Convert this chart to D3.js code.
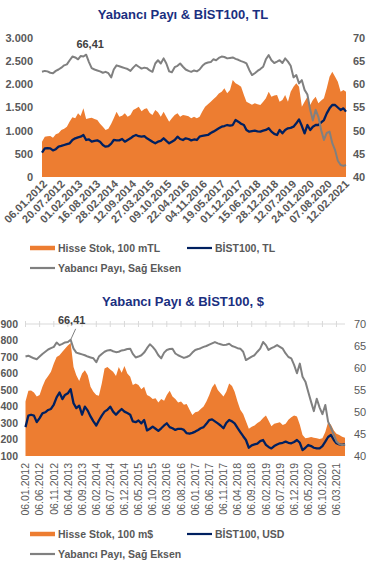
<!DOCTYPE html>
<html>
<head>
<meta charset="utf-8">
<script src="https://cdn.jsdelivr.net/npm/d3@7"></script>
<style>
  body { margin: 0; background: #fff; }
  text { font-family: Arial, "Liberation Sans", sans-serif; }
</style>
</head>
<body>
<div id="chart"></div>
<script>
// ---- Chart 1: TL (monthly readings, 06.01.2012 - 06.03.2021)
const stockTL = [
  762, 870, 880, 885, 845, 920, 943, 1015, 1040, 1086,
  1200, 1290, 1266, 1374, 1317, 1482, 1250, 1266, 1280, 1250,
  1230, 1150, 1086, 1015, 1040, 1150, 1266, 1410, 1300, 1320,
  1374, 1300, 1340, 1446, 1480, 1518, 1420, 1470, 1482, 1380,
  1338, 1446, 1400, 1300, 1410, 1300, 1194, 1266, 1340, 1374,
  1300, 1338, 1330, 1310, 1266, 1300, 1266, 1302, 1420, 1518,
  1570, 1626, 1680, 1734, 1800, 1842, 1914, 1806, 1878, 2094,
  2022, 1990, 1950, 1770, 1626, 1590, 1560, 1590, 1570, 1554,
  1626, 1700, 1842, 1734, 1760, 1770, 1626, 1662, 1770, 1626,
  1842, 1950, 2022, 1950, 1518, 1626, 1734, 1554, 1662, 1734,
  1590, 1650, 1698, 1914, 2166, 2274, 2166, 2058, 1842, 1878,
  1842
];
const bistTL = [
  525, 619, 620, 619, 575, 600, 655, 670, 690, 710,
  727, 799, 835, 856, 870, 907, 799, 810, 763, 780,
  790, 760, 690, 655, 665, 720, 799, 790, 790, 820,
  763, 800, 835, 880, 907, 880, 871, 880, 835, 800,
  760, 727, 763, 780, 835, 780, 727, 763, 800, 871,
  820, 799, 835, 820, 790, 810, 799, 871, 890, 900,
  907, 950, 979, 1015, 1050, 1086, 1100, 1122, 1110, 1122,
  1230, 1194, 1150, 1122, 1015, 979, 990, 1000, 985, 979,
  1000, 1015, 1051, 979, 930, 907, 1015, 943, 1015, 1051,
  1060, 1086, 1158, 1244, 1100, 943, 1122, 1015, 1086, 1122,
  1122, 1180, 1230, 1374, 1482, 1554, 1554, 1500, 1446, 1482,
  1410
];
const foreignTL = [
  62.7, 62.9, 62.8, 62.5, 62.4, 62.9, 63.2, 63.6, 64.1, 64.3,
  65.2, 66.0, 65.8, 65.4, 66.1, 66.0, 66.4, 64.8, 63.5, 63.2,
  63.0, 62.8, 62.5, 62.7, 62.4, 61.5, 63.2, 64.1, 63.9, 63.7,
  63.5, 63.3, 62.9, 63.6, 64.2, 63.8, 63.4, 63.6, 63.5, 63.0,
  62.7, 64.5, 65.2, 64.5, 65.6, 64.5, 62.8, 62.6, 63.7, 64.0,
  64.5, 63.8, 63.2, 62.9, 62.7, 63.0, 62.8, 63.2, 64.0, 64.5,
  64.7, 64.8, 65.4, 65.2, 65.7, 66.0, 65.9, 65.6, 65.7, 65.8,
  65.5, 65.3, 65.0, 64.8, 64.5, 63.1, 62.0, 62.4, 62.9, 63.3,
  63.8, 65.4, 66.3, 65.2, 64.6, 64.9, 65.2, 64.6, 65.6, 64.9,
  64.0, 61.5, 62.0, 60.2, 60.9, 58.8, 57.8, 54.5, 52.2, 54.5,
  53.0, 50.1, 48.0, 49.5, 49.8, 47.3, 45.8, 43.5, 42.6, 42.4,
  42.6
];
const ticksTL = [
  "06.01.2012", "20.07.2012", "01.02.2013", "16.08.2013", "28.02.2014",
  "12.09.2014", "27.03.2015", "09.10.2015", "22.04.2016", "04.11.2016",
  "19.05.2017", "01.12.2017", "15.06.2018", "28.12.2018", "12.07.2019",
  "24.01.2020", "07.08.2020", "12.02.2021"
];
const leftTicksTL = [0, 500, 1000, 1500, 2000, 2500, 3000];

// ---- Chart 2: USD (monthly readings, 06.01.2012 - 06.06.2021)
const stockUSD = [
  430, 495, 497, 485, 460, 470, 520, 560, 585, 611,
  660, 700, 710, 732, 750, 770, 785, 640, 590, 555,
  600, 620, 590, 520, 490, 470, 465, 540, 630, 640,
  625, 611, 585, 640, 605, 645, 600, 580, 530, 540,
  530, 505, 520, 470, 460, 445, 450, 425, 445, 435,
  470, 495, 460, 445, 425, 430, 410, 415, 380, 348,
  365, 370, 385, 400, 430, 470, 515, 540, 500, 480,
  460, 490, 540, 525, 490, 430, 380, 355, 310, 265,
  278, 285, 300, 310, 330, 345, 315, 280, 295, 300,
  305, 288, 295, 320, 335, 345, 340, 290, 227, 207,
  210, 215, 210, 207, 203, 207, 245, 305, 290, 255,
  235, 227, 217, 210
];
const bistUSD = [
  275, 345, 350, 345, 305, 330, 358, 365, 379, 385,
  412, 455, 485, 445, 470, 480, 505, 420, 390, 405,
  350, 399, 375, 340, 310, 285, 315, 345, 369, 380,
  399, 369, 350, 369, 385, 369, 360, 350, 310, 305,
  315, 298, 318, 255, 265, 278, 265, 252, 268, 285,
  298, 275, 268, 258, 265, 265, 258, 238, 235, 240,
  248, 258, 268, 275, 295, 318, 322, 310, 298, 285,
  268, 300, 318, 310, 298, 270, 245, 220, 197, 150,
  165, 170, 175, 190, 197, 167, 155, 146, 160, 170,
  177, 180, 187, 180, 177, 185, 197, 180, 136, 150,
  167, 160, 150, 146, 146, 160, 187, 215, 227, 197,
  177, 170, 167, 172
];
const foreignUSD = [
  62.6, 62.8, 62.5, 62.2, 62.0, 62.6, 63.2, 63.7, 64.2, 64.5,
  64.8, 65.8, 65.2, 65.5, 65.8, 65.9, 66.4, 64.4, 63.5, 63.3,
  63.1, 62.9, 62.6, 62.4, 62.2, 61.3, 62.6, 63.2, 63.7, 64.0,
  64.1, 63.8, 63.6, 63.7, 64.0, 64.1, 64.3, 64.4, 63.2, 62.4,
  62.6, 62.9, 63.5, 64.5, 65.4, 64.8, 64.0, 62.9, 62.2, 63.5,
  64.1, 64.3, 64.4, 63.3, 62.9, 62.6, 62.3, 62.5, 62.8, 63.5,
  64.1, 64.3, 64.5, 64.8, 65.0, 65.3, 65.6, 65.9, 65.6, 65.4,
  65.2, 65.3, 65.5, 65.0, 64.8, 64.5, 64.4, 63.7, 61.8, 62.2,
  62.6, 62.9, 63.7, 64.4, 65.9, 65.2, 64.1, 64.5, 64.8, 65.2,
  64.8, 64.4, 63.3, 62.5, 62.2, 60.7, 58.8, 61.0, 58.0, 56.9,
  54.6, 52.3, 50.2, 53.0, 51.0, 49.5, 51.6, 47.8, 46.4, 44.8,
  43.3, 42.7, 42.5, 42.6
];
const ticksUSD = [
  "06.01.2012", "06.06.2012", "06.11.2012", "06.04.2013", "06.09.2013",
  "06.02.2014", "06.07.2014", "06.12.2014", "06.05.2015", "06.10.2015",
  "06.03.2016", "06.08.2016", "06.01.2017", "06.06.2017", "06.11.2017",
  "06.04.2018", "06.09.2018", "06.02.2019", "06.07.2019", "06.12.2019",
  "06.05.2020", "06.10.2020", "06.03.2021"
];
const leftTicksUSD = [100, 200, 300, 400, 500, 600, 700, 800, 900];

const rightTicks = [40, 45, 50, 55, 60, 65, 70];
const peakForeign = 66.41;

// colors
const orange = "#ED7D31";
const navy = "#002060";
const grey = "#808080";
const labelGrey = "#595959";

const trLocale = d3.formatLocale({ decimal: ",", thousands: ".", grouping: [3], currency: ["", ""] });
const fmtThousands = trLocale.format(",");
const fmtPeak = trLocale.format(".2f");
const parseTick = d3.timeParse("%d.%m.%Y");

const svg = d3.select("#chart")
  .append("svg")
  .attr("width", 376)
  .attr("height", 572);

function monthDates(n) {
  return d3.range(n).map(i => new Date(2012, i, 6));
}

function drawChart(cfg) {
  const dates = monthDates(cfg.stock.length);
  const g = svg.append("g");

  const x = d3.scaleTime()
    .domain([dates[0], dates[dates.length - 1]])
    .range([cfg.x0, cfg.x1]);
  const yL = d3.scaleLinear().domain(cfg.leftDomain).range([cfg.yBottom, cfg.yTop]);
  const yR = d3.scaleLinear().domain([40, 70]).range([cfg.yBottom, cfg.yTop]);

  // title
  g.append("text")
    .attr("x", 183)
    .attr("y", cfg.titleY)
    .attr("text-anchor", "middle")
    .attr("font-size", "13px")
    .attr("font-weight", "bold")
    .attr("fill", "#1a2f80")
    .text(cfg.title);

  if (cfg.topLine) {
    g.append("line")
      .attr("x1", cfg.x0).attr("x2", cfg.x1)
      .attr("y1", cfg.yTop).attr("y2", cfg.yTop)
      .attr("stroke", "#d9d9d9");
    g.selectAll("line.tk")
      .data(cfg.ticks)
      .enter()
      .append("line")
      .attr("class", "tk")
      .attr("x1", d => x(parseTick(d))).attr("x2", d => x(parseTick(d)))
      .attr("y1", cfg.yTop - 3).attr("y2", cfg.yTop + 3)
      .attr("stroke", "#d9d9d9");
  }

  // area for stock
  const area = d3.area()
    .x((d, i) => x(dates[i]))
    .y0(cfg.yBottom)
    .y1(d => yL(d));
  g.append("path")
    .datum(cfg.stock)
    .attr("d", area)
    .attr("fill", orange);

  const lineL = d3.line().x((d, i) => x(dates[i])).y(d => yL(d));
  const lineR = d3.line().x((d, i) => x(dates[i])).y(d => yR(d));

  g.append("path")
    .datum(cfg.bist)
    .attr("d", lineL)
    .attr("fill", "none")
    .attr("stroke", navy)
    .attr("stroke-width", 2.3)
    .attr("stroke-linejoin", "round");

  g.append("path")
    .datum(cfg.foreign)
    .attr("d", lineR)
    .attr("fill", "none")
    .attr("stroke", grey)
    .attr("stroke-width", 2)
    .attr("stroke-linejoin", "round");

  // left axis labels
  g.selectAll("text.yl")
    .data(cfg.leftTicks)
    .enter()
    .append("text")
    .attr("x", cfg.leftLabelX)
    .attr("y", d => yL(d))
    .attr("dy", "0.35em")
    .attr("text-anchor", "end")
    .attr("font-size", cfg.leftFont)
    .attr("font-weight", "bold")
    .attr("fill", labelGrey)
    .text(d => fmtThousands(d));

  // right axis labels
  g.selectAll("text.yr")
    .data(rightTicks)
    .enter()
    .append("text")
    .attr("x", cfg.rightLabelX)
    .attr("y", d => yR(d))
    .attr("dy", "0.35em")
    .attr("font-size", "11px")
    .attr("font-weight", cfg.rightBold ? "bold" : "normal")
    .attr("fill", labelGrey)
    .text(d => d);

  // date labels
  g.selectAll("text.xl")
    .data(cfg.ticks)
    .enter()
    .append("text")
    .attr("transform", d => `translate(${x(parseTick(d)) + cfg.xLabelDx},${cfg.xLabelY}) rotate(${cfg.rotate})`)
    .attr("dy", "0.35em")
    .attr("text-anchor", "end")
    .attr("font-size", cfg.xFont)
    .attr("font-weight", cfg.xBold ? "bold" : "normal")
    .attr("fill", labelGrey)
    .text(d => d);

  // peak annotation
  const pi = d3.maxIndex(cfg.foreign);
  const px = x(dates[pi]);
  const py = yR(cfg.foreign[pi]);
  if (cfg.leader) {
    g.append("line")
      .attr("x1", px).attr("y1", py)
      .attr("x2", px + 5).attr("y2", py - 11)
      .attr("stroke", grey);
  }
  g.append("text")
    .attr("x", px + cfg.peakDx)
    .attr("y", py - cfg.peakDy)
    .attr("text-anchor", "middle")
    .attr("font-size", "11px")
    .attr("font-weight", "bold")
    .attr("fill", "#404040")
    .text(fmtPeak(peakForeign));

  // legend
  const items = [
    { name: cfg.legend[0], color: orange, w: 4.5, x: 30, y: cfg.legendY },
    { name: cfg.legend[1], color: navy, w: 2.2, x: 187, y: cfg.legendY },
    { name: "Yabancı Payı, Sağ Eksen", color: grey, w: 2.2, x: 30, y: cfg.legendY + 20 }
  ];
  const lg = g.selectAll("g.lg")
    .data(items)
    .enter()
    .append("g")
    .attr("transform", d => `translate(${d.x},${d.y})`);
  lg.append("line")
    .attr("x1", 0).attr("x2", 25)
    .attr("stroke", d => d.color)
    .attr("stroke-width", d => d.w);
  lg.append("text")
    .attr("x", 28)
    .attr("dy", "0.35em")
    .attr("font-size", "10.5px")
    .attr("font-weight", "bold")
    .attr("fill", labelGrey)
    .text(d => d.name);
}

drawChart({
  title: "Yabancı Payı & BİST100, TL",
  titleY: 19,
  stock: stockTL, bist: bistTL, foreign: foreignTL,
  ticks: ticksTL, leftTicks: leftTicksTL, leftDomain: [0, 3000],
  x0: 42, x1: 346, yTop: 38, yBottom: 177,
  leftLabelX: 33, leftFont: "11px", rightLabelX: 353, rightBold: true,
  xLabelDx: 3, xLabelY: 182, rotate: -45, xFont: "11px", xBold: true,
  peakDx: 4, peakDy: 7, leader: false,
  legend: ["Hisse Stok, 100 mTL", "BİST100, TL"], legendY: 248
});

drawChart({
  title: "Yabancı Payı & BİST100, $",
  titleY: 306,
  stock: stockUSD, bist: bistUSD, foreign: foreignUSD,
  ticks: ticksUSD, leftTicks: leftTicksUSD, leftDomain: [100, 900],
  x0: 25.5, x1: 345, yTop: 324, yBottom: 456,
  leftLabelX: 18, leftFont: "10.5px", rightLabelX: 354, rightBold: false, topLine: true,
  xLabelDx: 0, xLabelY: 463, rotate: -90, xFont: "10.5px", xBold: false,
  peakDx: 1, peakDy: 16, leader: true,
  legend: ["Hisse Stok, 100 m$", "BİST100, USD"], legendY: 534
});
</script>
</body>
</html>
